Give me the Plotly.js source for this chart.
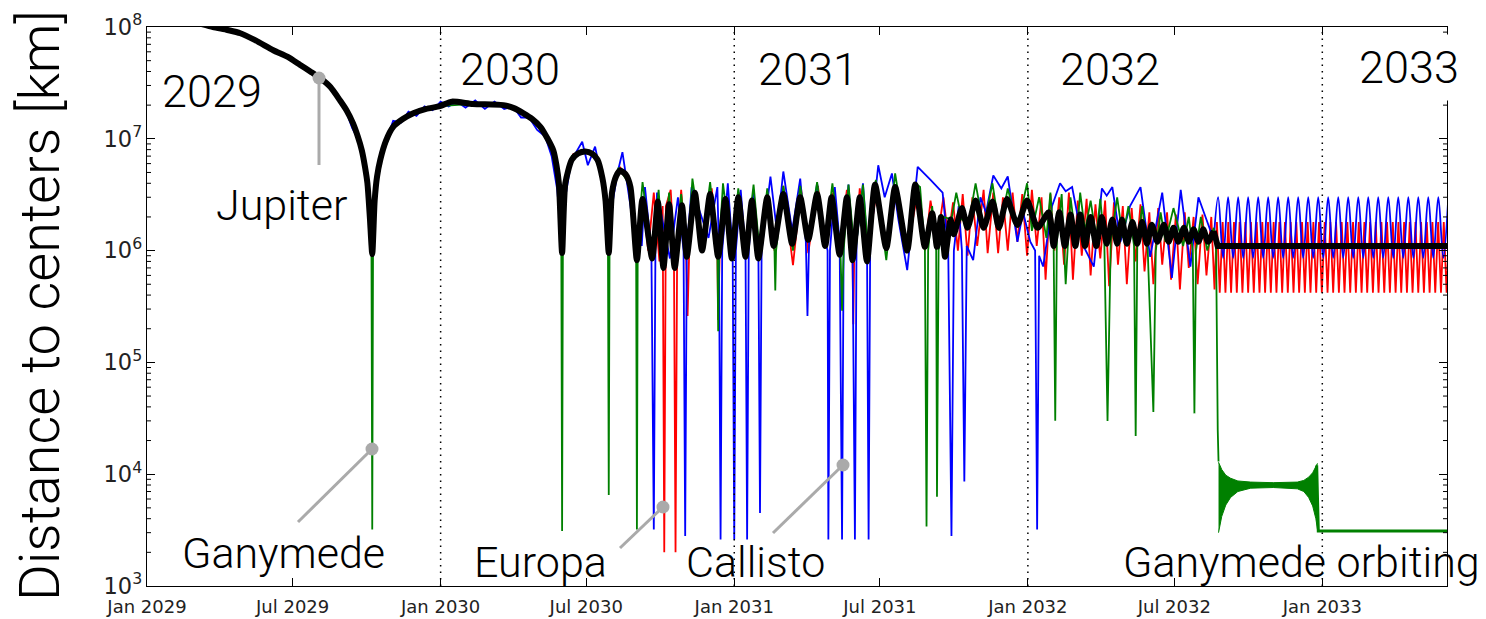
<!DOCTYPE html>
<html><head><meta charset="utf-8">
<script src="https://cdn.plot.ly/plotly-3.0.1.min.js"></script>
<style>html,body{margin:0;padding:0;background:#fff}#chart{width:1486px;height:619px}</style>
</head><body><div id="chart"></div>
<script>
// x values: days since 2029-01-01 ; y values: distance in km
const missionStart = Date.UTC(2029, 0, 1);

const jupiter = [[0,1.4e8],[30,1.25e8],[60,1.1e8],[82,1.0e8],[100,9.4e7],[116,8.8e7],[135,7.6e7],[157,6.2e7],[175,5.4e7],[190,4.6e7],[203,4.0e7],[215,3.5e7],[228,2.9e7],[240,2.2e7],[248,1.8e7],[256,1.38e7],[262,1.05e7],[267,7.9e6],[271,5.6e6],[274,4.0e6],[277,2.0e6],[280,9.3e5],[283,2.8e6],[286,4.6e6],[290,6.5e6],[297,9.6e6],[306,1.28e7],[318,1.5e7],[331,1.69e7],[347,1.85e7],[364,1.96e7],[379,2.15e7],[405,2.05e7],[443,2.0e7],[456,1.88e7],[468,1.69e7],[479,1.5e7],[489,1.28e7],[498,1.0e7],[505,7.9e6],[509,5.8e6],[512,4.0e6],[516,9.5e5],[520,4.0e6],[528,6.5e6],[536,7.4e6],[545,7.7e6],[553,7.4e6],[560,6.5e6],[566,4.5e6],[570,2.8e6],[574,9.5e5],[578,3.3e6],[583,4.6e6],[588,5.2e6],[595,4.8e6],[601,3.7e6],[609,8.2e5],[616,2.9e6],[628,8.5e5],[635,2.75e6],[642,7.0e5],[649,2.6e6],[656,7.0e5],[665,2.55e6],[671,8.8e5],[681,3.3e6],[690,1.0e6],[700,3.2e6],[710,8.8e5],[719,2.9e6],[727,8.5e5],[735,3.0e6],[744,8.8e5],[752,2.8e6],[760,8.5e5],[771,3.0e6],[779,1.1e6],[791,3.2e6],[802,1.15e6],[812,3.0e6],[822,1.25e6],[833,3.2e6],[843,1.1e6],[851,3.0e6],[861,9.2e5],[870,3.0e6],[877,8.2e5],[886,3.0e6],[895,8.0e5],[905,3.9e6],[919,1.05e6],[930,3.7e6],[945,1.0e6],[955,3.9e6],[967,1.08e6],[976,2.16e6],[982,1.08e6],[987,2.0e6],[992,8.8e5],[999,1.9e6],[1003,1.4e6],[1013,2.4e6],[1020,1.6e6],[1030,2.8e6],[1040,1.6e6],[1051,2.75e6],[1059,1.6e6],[1069,2.9e6],[1082,1.7e6],[1094,2.8e6],[1107,1.6e6],[1121,2.2e6],[1127,1.1e6],[1134,2.2e6],[1141,1.1e6],[1148,2.1e6],[1154,1.1e6],[1160,2.1e6],[1166,1.1e6],[1173,2.0e6],[1180,1.1e6],[1187,2.0e6],[1193,1.15e6],[1200,1.9e6],[1206,1.15e6],[1212,1.9e6],[1218,1.15e6],[1225,1.8e6],[1231,1.15e6],[1237,1.8e6],[1243,1.15e6],[1249,1.7e6],[1256,1.2e6],[1264,1.7e6],[1270,1.2e6],[1276,1.6e6],[1282,1.2e6],[1289,1.6e6],[1295,1.2e6],[1301,1.55e6],[1307,1.2e6],[1313,1.55e6],[1319,1.2e6],[1326,1.5e6]];
const jupiterOrbitPhase = [[1326,1.5e6],[1331,1.1e6],[1617,1.1e6]];

const ganymede = [[240,2.2e7],[256,1.38e7],[267,7.9e6],[274,4.0e6],[279,1.2e6],[280,3.2e3],[281,1.2e6],[285,3.5e6],[290,6.5e6],[306,1.28e7],[331,1.69e7],[364,1.96e7],[405,2.05e7],[443,2.0e7],[468,1.69e7],[489,1.28e7],[505,7.9e6],[512,4.0e6],[515,1.2e6],[516,3.1e3],[517,1.2e6],[520,4.0e6],[528,7.0e6],[545,7.9e6],[560,6.8e6],[570,2.8e6],[573,1.2e6],[574,6.5e3],[575,1.2e6],[578,3.3e6],[586,5.5e6],[601,3.8e6],[608,1.2e6],[609,3.2e3],[610,1.2e6],[616,4.1e6],[628,9.0e5],[636,3.5e6],[642,8.0e5],[649,3.3e6],[656,8.0e5],[664,3.2e6],[672,9.0e5],[678,4.4e6],[690,1.1e6],[700,4.1e6],[709,1.0e6],[710,1.9e5],[711,1.0e6],[716,4.0e6],[727,9.0e5],[735,3.6e6],[744,9.0e5],[754,3.9e6],[762,9.0e5],[771,3.6e6],[780,1.0e6],[781,4.4e5],[782,1.0e6],[791,3.8e6],[803,1.0e6],[812,3.8e6],[822,1.3e6],[833,4.1e6],[843,1.1e6],[852,4.0e6],[862,1.0e6],[864,2.9e5],[866,1.0e6],[872,3.9e6],[880,9.0e5],[890,3.9e6],[897,9.0e5],[906,4.3e6],[919,8.2e5],[930,4.9e6],[945,1.0e6],[955,4.0e6],[961,3.7e6],[967,1.0e6],[969,3.4e3],[971,1.0e6],[976,2.5e6],[981,1.0e6],[982,6.3e3],[984,1.0e6],[990,2.0e6],[1000,1.9e6],[1006,3.3e6],[1013,1.9e6],[1021,1.7e6],[1030,4.0e6],[1040,1.6e6],[1051,4.0e6],[1060,1.5e6],[1070,3.6e6],[1082,1.6e6],[1094,4.0e6],[1100,1.5e6],[1109,3.0e6],[1118,1.3e6],[1123,3.3e6],[1127,1.2e6],[1129,3.0e4],[1131,1.2e6],[1137,3.2e6],[1142,5.0e5],[1148,3.0e6],[1155,1.2e6],[1160,3.3e6],[1166,1.5e6],[1173,2.8e6],[1180,1.3e6],[1185,2.9e6],[1190,1.2e6],[1194,3.0e4],[1198,1.2e6],[1206,3.0e6],[1213,1.3e6],[1220,2.5e6],[1227,1.1e6],[1229,2.2e4],[1231,1.1e6],[1237,2.5e6],[1244,1.0e6],[1251,3.6e4],[1254,1.0e6],[1260,2.2e6],[1266,1.2e6],[1276,2.4e6],[1288,1.1e6],[1295,2.0e6],[1300,1.0e6],[1302,3.5e4],[1304,1.0e6],[1310,2.0e6],[1318,1.0e6],[1326,1.6e6],[1329,1.0e6],[1330,4.0e4],[1331,2.5e4],[1332,1.3e4]];

// Ganymede orbit phase: envelope of the fast oscillation, then the final orbit
const ganymedeBandDays  = [1332,1336,1341,1347,1356,1372,1400,1430,1438,1444,1449,1453,1455];
const ganymedeBandUpper = [1.28e4,1.1e4,9.8e3,9.2e3,8.7e3,8.5e3,8.4e3,8.5e3,8.8e3,9.4e3,1.03e4,1.15e4,1.25e4];
const ganymedeBandLower = [3.0e3,4.2e3,5.3e3,6.2e3,7.0e3,7.5e3,7.6e3,7.4e3,7.0e3,6.2e3,5.2e3,4.0e3,3.2e3];
const ganymedeOrbit = [[1454,1.2e4],[1456,3.1e3],[1617,3.1e3]];

const europa = [[505,7.9e6],[512,4.0e6],[516,1.0e6],[520,4.0e6],[530,7.3e6],[545,7.5e6],[560,6.8e6],[570,2.8e6],[574,1.0e6],[578,3.3e6],[588,5.6e6],[601,3.7e6],[609,9.0e5],[616,3.0e6],[623,1.0e6],[630,3.3e6],[637,8.0e5],[641,2.5e6],[643,2.0e3],[645,2.5e6],[651,3.5e6],[655,1.0e6],[657,2.0e3],[659,1.0e6],[664,3.5e6],[670,1.0e6],[672,2.6e5],[674,1.0e6],[681,3.0e6],[691,1.0e6],[702,3.6e6],[709,1.0e6],[710,2.4e5],[712,1.0e6],[720,3.0e6],[728,9.0e5],[737,3.3e6],[745,9.0e5],[753,3.0e6],[761,9.0e5],[771,3.2e6],[780,1.0e6],[791,3.8e6],[803,7.4e5],[813,3.6e6],[822,9.5e5],[834,3.8e6],[843,1.1e6],[852,3.3e6],[861,1.0e6],[870,3.5e6],[877,8.0e5],[878,2.2e5],[879,8.0e5],[886,3.6e6],[895,9.0e5],[907,3.4e6],[919,1.0e6],[932,3.5e6],[945,1.0e6],[958,3.3e6],[967,1.0e6],[974,2.8e6],[982,1.2e6],[990,3.0e6],[996,1.3e6],[1002,2.7e6],[1008,1.0e6],[1014,3.2e6],[1020,9.0e5],[1026,3.0e6],[1032,1.1e6],[1040,3.5e6],[1045,9.5e5],[1052,3.3e6],[1058,9.5e5],[1064,3.0e6],[1070,1.0e6],[1076,3.3e6],[1082,1.2e6],[1088,3.2e6],[1094,9.0e5],[1100,3.5e6],[1106,1.1e6],[1112,3.0e6],[1117,5.5e5],[1123,3.2e6],[1128,1.0e6],[1134,3.0e6],[1140,7.5e5],[1146,3.3e6],[1151,5.5e5],[1157,2.8e6],[1162,9.0e5],[1168,2.9e6],[1173,6.0e5],[1179,2.6e6],[1185,8.5e5],[1191,2.8e6],[1196,4.8e5],[1202,2.7e6],[1207,7.5e5],[1213,2.5e6],[1218,5.0e5],[1224,2.4e6],[1229,8.0e5],[1235,2.6e6],[1240,6.5e5],[1246,2.2e6],[1251,5.0e5],[1257,2.4e6],[1262,7.5e5],[1268,2.2e6],[1273,5.5e5],[1279,2.1e6],[1284,4.5e5],[1290,2.2e6],[1295,7.0e5],[1301,2.0e6],[1306,5.0e5],[1312,2.1e6],[1317,6.0e5],[1323,2.0e6],[1327,4.5e5]];

const europaTail = [[1330,1.8e6],[1333.5,4.2e5],[1337.1,1.8e6],[1340.6,4.2e5],[1344.1,1.8e6],[1347.6,4.2e5],[1351.2,1.8e6],[1354.7,4.2e5],[1358.2,1.8e6],[1361.7,4.2e5],[1365.3,1.8e6],[1368.8,4.2e5],[1372.3,1.8e6],[1375.8,4.2e5],[1379.4,1.8e6],[1382.9,4.2e5],[1386.4,1.8e6],[1389.9,4.2e5],[1393.5,1.8e6],[1397.0,4.2e5],[1400.5,1.8e6],[1404.0,4.2e5],[1407.6,1.8e6],[1411.1,4.2e5],[1414.6,1.8e6],[1418.1,4.2e5],[1421.7,1.8e6],[1425.2,4.2e5],[1428.7,1.8e6],[1432.2,4.2e5],[1435.8,1.8e6],[1439.3,4.2e5],[1442.8,1.8e6],[1446.3,4.2e5],[1449.9,1.8e6],[1453.4,4.2e5],[1456.9,1.8e6],[1460.4,4.2e5],[1464.0,1.8e6],[1467.5,4.2e5],[1471.0,1.8e6],[1474.5,4.2e5],[1478.1,1.8e6],[1481.6,4.2e5],[1485.1,1.8e6],[1488.6,4.2e5],[1492.2,1.8e6],[1495.7,4.2e5],[1499.2,1.8e6],[1502.7,4.2e5],[1506.3,1.8e6],[1509.8,4.2e5],[1513.3,1.8e6],[1516.8,4.2e5],[1520.4,1.8e6],[1523.9,4.2e5],[1527.4,1.8e6],[1530.9,4.2e5],[1534.5,1.8e6],[1538.0,4.2e5],[1541.5,1.8e6],[1545.0,4.2e5],[1548.6,1.8e6],[1552.1,4.2e5],[1555.6,1.8e6],[1559.1,4.2e5],[1562.7,1.8e6],[1566.2,4.2e5],[1569.7,1.8e6],[1573.2,4.2e5],[1576.8,1.8e6],[1580.3,4.2e5],[1583.8,1.8e6],[1587.3,4.2e5],[1590.9,1.8e6],[1594.4,4.2e5],[1597.9,1.8e6],[1601.4,4.2e5],[1605.0,1.8e6],[1608.5,4.2e5],[1612.0,1.8e6],[1615.5,4.2e5],[1619.1,1.8e6]];

const callisto = [[246,1.9e7],[255,1.25e7],[262,1.0e7],[268,6.5e6],[274,3.6e6],[280,9.0e5],[285,3.0e6],[290,7.5e6],[297,9.5e6],[306,1.45e7],[316,1.4e7],[325,1.75e7],[335,1.6e7],[345,1.95e7],[355,1.8e7],[365,2.15e7],[375,1.95e7],[385,2.15e7],[396,1.9e7],[408,2.2e7],[420,1.85e7],[432,2.15e7],[444,1.85e7],[455,1.95e7],[465,1.55e7],[475,1.55e7],[485,1.2e7],[495,1.05e7],[503,7.0e6],[510,3.5e6],[516,1.0e6],[520,3.0e6],[526,5.5e6],[533,7.5e6],[541,9.4e6],[548,5.8e6],[557,8.5e6],[565,4.5e6],[570,2.5e6],[574,1.0e6],[578,2.5e6],[585,5.0e6],[591,7.6e6],[601,2.5e6],[608,1.0e6],[612,2.0e6],[615,1.1e6],[619,3.7e6],[627,1.0e6],[630,3.2e3],[632,1.0e6],[634,3.3e6],[650,8.5e5],[660,3.0e6],[667,1.0e6],[669,2.8e3],[671,1.0e6],[677,3.7e6],[698,1.3e6],[709,3.7e6],[711,1.0e6],[713,2.6e3],[715,1.0e6],[722,4.0e6],[728,1.0e6],[730,2.6e3],[732,1.0e6],[738,3.5e6],[744,1.0e6],[746,2.6e3],[748,1.0e6],[754,3.5e6],[760,1.0e6],[762,4.5e3],[764,1.0e6],[775,4.6e6],[783,1.5e6],[791,5.1e6],[802,1.5e6],[812,4.4e6],[819,1.2e6],[821,2.6e5],[823,1.2e6],[833,4.0e6],[840,1.5e6],[846,1.0e6],[847,2.6e3],[849,1.0e6],[855,3.7e6],[861,1.2e6],[864,2.6e3],[866,1.2e6],[872,3.9e6],[877,1.2e6],[880,2.6e3],[882,1.2e6],[890,4.0e6],[895,1.2e6],[897,2.6e3],[899,1.2e6],[909,5.8e6],[917,3.0e6],[926,4.9e6],[934,1.9e6],[945,6.7e5],[958,5.6e6],[974,4.3e6],[989,3.3e6],[996,1.0e6],[1000,2.8e3],[1003,1.0e6],[1009,2.5e6],[1013,1.0e6],[1016,8.6e3],[1019,1.1e6],[1027,8.2e5],[1036,3.0e6],[1043,2.2e6],[1052,4.7e6],[1062,3.6e6],[1070,4.6e6],[1082,1.2e6],[1089,2.2e6],[1098,1.2e6],[1104,1.0e6],[1106.5,3.2e3],[1109,9.0e5],[1114,7.2e5],[1125,2.5e6],[1135,4.0e6],[1142,3.4e6],[1150,3.7e6],[1164,1.1e6],[1177,7.2e5],[1187,3.6e6],[1193,3.1e6],[1200,3.7e6],[1210,1.2e6],[1222,2.5e6],[1235,3.7e6],[1247,8.8e5],[1262,3.3e6],[1274,5.7e5],[1285,3.5e6],[1297,7.2e5],[1307,3.0e6],[1326,1.25e6]];

const callistoTail = [[1331.5,3.0e6],[1337.7,8.6e5],[1343.9,3.0e6],[1350.2,8.6e5],[1356.4,3.0e6],[1362.6,8.6e5],[1368.8,3.0e6],[1375.0,8.6e5],[1381.3,3.0e6],[1387.5,8.6e5],[1393.7,3.0e6],[1399.9,8.6e5],[1406.1,3.0e6],[1412.3,8.6e5],[1418.6,3.0e6],[1424.8,8.6e5],[1431.0,3.0e6],[1437.2,8.6e5],[1443.5,3.0e6],[1449.7,8.6e5],[1455.9,3.0e6],[1462.1,8.6e5],[1468.3,3.0e6],[1474.5,8.6e5],[1480.8,3.0e6],[1487.0,8.6e5],[1493.2,3.0e6],[1499.4,8.6e5],[1505.7,3.0e6],[1511.9,8.6e5],[1518.1,3.0e6],[1524.3,8.6e5],[1530.5,3.0e6],[1536.7,8.6e5],[1543.0,3.0e6],[1549.2,8.6e5],[1555.4,3.0e6],[1561.6,8.6e5],[1567.9,3.0e6],[1574.1,8.6e5],[1580.3,3.0e6],[1586.5,8.6e5],[1592.7,3.0e6],[1598.9,8.6e5],[1605.2,3.0e6],[1611.4,8.6e5],[1617.6,3.0e6]];

const yearLines = ['2030-01-01','2031-01-01','2032-01-01','2033-01-01'];
const yearLabels = ['2029','2030','2031','2032','2033'];
const bodyLabels = ['Jupiter','Ganymede','Europa','Callisto','Ganymede orbiting'];
const minorTickKm = [2e3,3e3,4e3,5e3,6e3,7e3,8e3,9e3,2e4,3e4,4e4,5e4,6e4,7e4,8e4,9e4,2e5,3e5,4e5,5e5,6e5,7e5,8e5,9e5,2e6,3e6,4e6,5e6,6e6,7e6,8e6,9e6,2e7,3e7,4e7,5e7,6e7,7e7,8e7,9e7];

// ---------- drawing ----------
const toDate = d => new Date(missionStart + d * 86400000).toISOString().slice(0, 19).replace('T', ' ');
const xs = arr => arr.map(p => toDate(p[0]));
const ys = arr => arr.map(p => p[1]);

const europaAll = europa.concat(europaTail);
const callistoTailLine = [callisto[callisto.length - 1]].concat(callistoTail);

const traces = [
  {x: xs(europaAll), y: ys(europaAll), mode: 'lines', line: {color: '#ff0000', width: 1.8}},
  {x: xs(callisto), y: ys(callisto), mode: 'lines', line: {color: '#0000ff', width: 1.8}},
  {x: xs(callistoTailLine), y: ys(callistoTailLine), mode: 'lines', line: {color: '#0000ff', width: 1.8, shape: 'spline', smoothing: 1}},
  {x: xs(ganymede), y: ys(ganymede), mode: 'lines', line: {color: '#008000', width: 1.8}},
  {x: ganymedeBandDays.map(toDate), y: ganymedeBandLower, mode: 'lines', line: {color: '#008000', width: 1}},
  {x: ganymedeBandDays.map(toDate), y: ganymedeBandUpper, mode: 'lines', fill: 'tonexty', fillcolor: '#008000', line: {color: '#008000', width: 1}},
  {x: xs(ganymedeOrbit), y: ys(ganymedeOrbit), mode: 'lines', line: {color: '#008000', width: 3}},
  {x: xs(jupiter), y: ys(jupiter), mode: 'lines', line: {color: '#000000', width: 6, shape: 'spline', smoothing: 0.6}},
  {x: xs(jupiterOrbitPhase), y: ys(jupiterOrbitPhase), mode: 'lines', line: {color: '#000000', width: 6}}
];

const labelFamily = 'Roboto, "Liberation Sans", sans-serif';
const bigFont = {family: labelFamily, size: 45, color: '#000', weight: 300};
const labelFont = {family: labelFamily, size: 43, color: '#000', weight: 300};

// pixel helpers for the decoration placement (plot area 147..1447 x 27..586)
const px = v => (v - 147) / 1300;
const py = v => (586 - v) / 559;

const yearPos = [[212, 92], [510, 70], [808, 70], [1110, 70], [1409, 67]];
const annotations = yearLabels.map((t, i) => ({
  text: t, xref: 'paper', yref: 'paper', x: px(yearPos[i][0]), y: py(yearPos[i][1]),
  xanchor: 'center', yanchor: 'middle', showarrow: false, font: bigFont,
  bgcolor: i === 4 ? '#ffffff' : 'rgba(0,0,0,0)', borderpad: i === 4 ? 6 : 0
}));

const bodyPos = [[281, 205], [283, 553], [540, 562], [755, 562], [1301, 562]];
bodyLabels.forEach((t, i) => annotations.push({
  text: t, xref: 'paper', yref: 'paper', x: px(bodyPos[i][0]), y: py(bodyPos[i][1]),
  xanchor: 'center', yanchor: 'middle', showarrow: false, font: labelFont
}));

annotations.push({
  text: 'Distance to centers [km]', xref: 'paper', yref: 'paper', x: px(40), y: py(306),
  xanchor: 'center', yanchor: 'middle', textangle: -90, showarrow: false,
  font: {family: labelFamily, size: 56, color: '#000', weight: 300}
});

// pointer lines with dots
const pointerHeads = [[319, 78], [372, 449], [663, 507], [843, 465]];
const pointerTails = [[319, 165], [298, 522], [620, 548], [773, 533]];
const shapes = [];
pointerHeads.forEach((h, i) => {
  shapes.push({type: 'line', xref: 'paper', yref: 'paper', x0: px(h[0]), y0: py(h[1]), x1: px(pointerTails[i][0]), y1: py(pointerTails[i][1]),
    line: {color: '#aaaaaa', width: 3}, layer: 'above'});
  shapes.push({type: 'circle', xref: 'paper', yref: 'paper', xsizemode: 'pixel', ysizemode: 'pixel',
    xanchor: px(h[0]), yanchor: py(h[1]), x0: -6.5, x1: 6.5, y0: -6.5, y1: 6.5,
    fillcolor: '#aaaaaa', line: {width: 0}, layer: 'above'});
});

// year separators
yearLines.forEach(d => shapes.push({
  type: 'line', xref: 'x', yref: 'paper', x0: d, x1: d, y0: 0, y1: 1,
  line: {color: '#000', width: 1.5, dash: '1.5px,5px'}, layer: 'above'
}));

// log-axis minor ticks on the left and right spines (shape y given in data units)
minorTickKm.forEach(v => {
  shapes.push({type: 'line', xref: 'paper', yref: 'y', x0: 0, x1: 4 / 1300, y0: v, y1: v, line: {color: '#000', width: 1}, layer: 'above'});
  shapes.push({type: 'line', xref: 'paper', yref: 'y', x0: 1 - 4 / 1300, x1: 1, y0: v, y1: v, line: {color: '#000', width: 1}, layer: 'above'});
});

const tickFont = {family: '"DejaVu Sans", sans-serif', size: 18, color: '#222'};

const layout = {
  width: 1486, height: 619,
  margin: {l: 147, r: 39, t: 27, b: 33, pad: 0},
  paper_bgcolor: '#ffffff', plot_bgcolor: '#ffffff',
  showlegend: false,
  xaxis: {
    type: 'date', range: ['2029-01-01', '2033-06-05'],
    tick0: '2029-01-01', dtick: 'M6', tickformat: '%b %Y',
    ticks: 'inside', ticklen: 8, tickcolor: '#000', mirror: 'allticks',
    showline: true, linecolor: '#000', linewidth: 1.2, ticklabelstandoff: 4,
    showgrid: false, zeroline: false, tickfont: tickFont
  },
  yaxis: {
    type: 'log', range: [3, 8], dtick: 1, exponentformat: 'power',
    ticks: 'inside', ticklen: 8, tickcolor: '#000', mirror: 'allticks',
    showline: true, linecolor: '#000', linewidth: 1.2,
    showgrid: false, zeroline: false, tickfont: tickFont
  },
  shapes: shapes,
  annotations: annotations
};

Plotly.newPlot('chart', traces, layout, {staticPlot: true, displayModeBar: false});
</script>
</body></html>
